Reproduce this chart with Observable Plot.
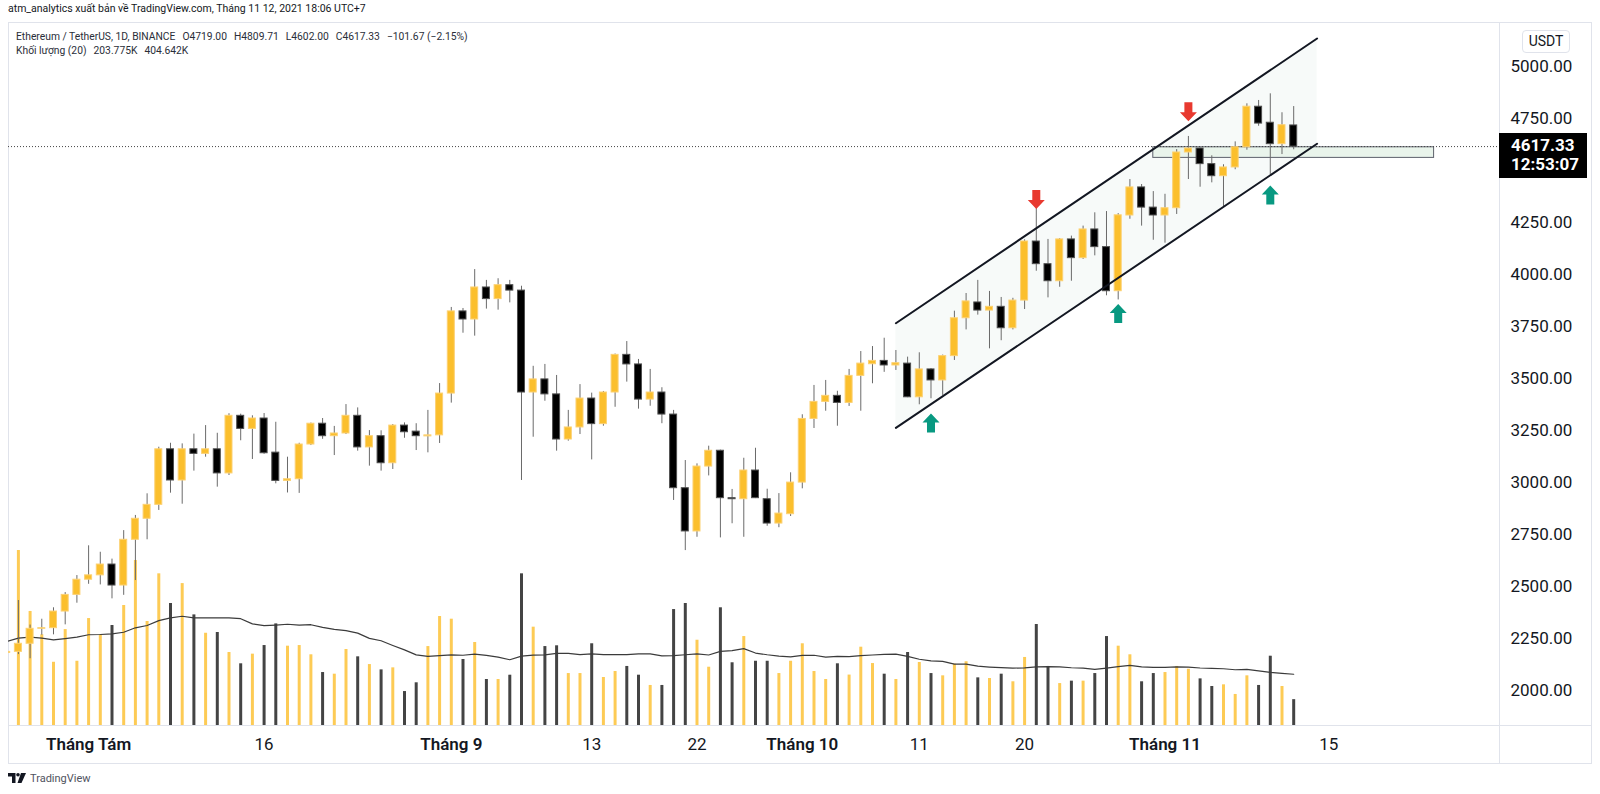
<!DOCTYPE html>
<html><head><meta charset="utf-8">
<script src="https://cdn.jsdelivr.net/npm/d3@7"></script>
<script src="https://cdn.jsdelivr.net/npm/@observablehq/plot@0.6"></script>
<style>
body{margin:0;background:#fff;}
#wrap{position:relative;width:1600px;height:794px;overflow:hidden;font-family:Roboto,sans-serif;color:#131722;background:#fff;}
#wrap svg{position:absolute;left:0;top:0;}
.abs{position:absolute;white-space:nowrap;}
.hline{position:absolute;height:1px;background:#e0e3eb;}
.vline{position:absolute;width:1px;background:#e0e3eb;}
</style></head><body><div id="wrap"></div>
<script>
// ---------- data ----------
const firstDay = "2021-07-25", lastDay = "2021-11-12";
const opens = [2183,2188,2227,2299,2302,2382,2462,
 2535,2556,2608,2507,2727,2828,2895,3162,3012,3162,3140,3162,3046,3323,3260,3310,3146,3010,3018,3185,3285,3225,3238,3323,3171,3225,3095,3276,3247,3224,3229,
 3430,3825,3786,3940,3884,3951,3925,3435,3498,3426,3209,3267,3406,3283,3435,3616,3570,3401,3435,3329,2975,2767,3079,3155,2927,2922,3060,2922,2805,2850,
 3002,3308,3390,3419,3385,3515,3571,3587,3565,3574,3412,3546,3493,3610,3792,3868,3829,3847,3744,3877,4161,4052,3970,4171,4081,4219,4134,3922,4286,4421,4324,
 4286,4321,4589,4608,4533,4475,4517,4614,4809,4732,4629,4719];
const highs = [2200,2435,2317,2345,2400,2473,2555,
 2698,2667,2634,2771,2844,2948,3172,3191,3188,3235,3276,3239,3333,3331,3323,3334,3292,3124,3191,3288,3310,3272,3377,3361,3252,3251,3281,3289,3285,3349,3478,
 3844,3839,4026,3974,3982,3974,3946,3561,3570,3517,3349,3473,3432,3440,3620,3680,3594,3546,3458,3349,3108,3092,3177,3158,2969,3119,3167,2970,2949,3049,
 3328,3469,3493,3441,3546,3632,3656,3696,3637,3605,3626,3550,3615,3826,3911,3974,3921,3892,3888,4169,4370,4171,4175,4187,4235,4299,4305,4295,4459,4435,4401,
 4388,4603,4666,4610,4573,4530,4640,4823,4839,4871,4780,4809.71];
const lows = [2150,2175,2155,2268,2270,2318,2422,
 2513,2510,2443,2460,2531,2727,2868,2951,2898,3057,3124,2980,3036,3203,3113,3138,2996,2952,2950,3180,3210,3132,3233,3153,3081,3057,3065,3215,3156,3145,3190,
 3384,3720,3706,3836,3831,3866,3012,3220,3393,3153,3201,3233,3111,3273,3364,3485,3355,3369,3285,2916,2675,2739,3034,2736,2804,2739,2925,2792,2785,2839,
 2972,3262,3345,3273,3368,3345,3477,3532,3541,3410,3376,3405,3421,3589,3736,3807,3645,3684,3736,3834,4018,3890,3941,3970,4075,4092,3900,3880,4268,4235,4167,
 4153,4291,4459,4422,4443,4329,4506,4600,4715,4477,4579,4602];
const closes = [2188,2227,2299,2302,2382,2462,2535,
 2556,2608,2507,2727,2828,2895,3162,3012,3162,3140,3162,3046,3323,3260,3310,3143,3010,3018,3185,3285,3225,3238,3323,3171,3225,3095,3276,3244,3225,3229,3430,
 3825,3786,3940,3884,3951,3925,3435,3498,3426,3209,3267,3406,3283,3435,3616,3570,3401,3435,3329,2975,2767,3079,3155,2927,2922,3060,2927,2805,2853,3002,
 3308,3390,3419,3385,3515,3574,3587,3565,3576,3412,3546,3493,3610,3792,3873,3829,3847,3744,3877,4161,4052,3970,4171,4081,4219,4134,3922,4287,4421,4324,4286,
 4321,4589,4608,4533,4475,4517,4614,4809,4728,4629,4720,4617.33];
// volume in thousands (K)
const volumes = [null,1381,900,716,499,757,507,
 844,716,789,947,1302,821,1197,963,1120,873,728,734,576,487,563,631,802,626,631,558,418,405,600,542,481,439,455,268,337,623,860,
 839,521,655,363,363,397,1197,776,623,629,410,410,645,379,426,466,397,316,316,915,963,673,460,929,495,702,507,507,410,507,
 645,426,363,487,398,618,489,405,363,576,497,410,392,484,503,376,371,405,345,537,797,466,331,350,350,410,702,626,558,345,410,
 418,466,444,368,308,321,245,392,316,547,308,204];
const maEarly = [663,689,697,690,676,686,697,716,718,723,736,771,789,828,850,862,850,850,850,850];
const maWindow = 20;

const monthTickDates = ["2021-08-01","2021-09-01","2021-10-01","2021-11-01"];
const monthTickLabels = ["Tháng Tám","Tháng 9","Tháng 10","Tháng 11"];
const dayTickDates = ["2021-08-16","2021-09-13","2021-09-22","2021-10-11","2021-10-20","2021-11-15"];
const dayTickLabels = ["16","13","22","11","20","15"];
const priceTicks = [2000,2250,2500,2750,3000,3250,3500,3750,4000,4250,4750,5000];

const channelDates = ["2021-10-09","2021-11-14"];
const channelLower = [3265,4631];
const channelUpper = [3768,5137];
const zoneDates = ["2021-10-31","2021-11-24"];
const zonePrices = [4563,4614];
const sellArrowDates = ["2021-10-21","2021-11-03"];
const sellArrowPrices = [4363,4785];
const buyArrowDates = ["2021-10-12","2021-10-28","2021-11-10"];
const buyArrowPrices = [3288,3815,4384];

const lastPrice = 4617.33;
const countdown = "12:53:07";
const titleText = "atm_analytics xuất bản về TradingView.com, Tháng 11 12, 2021 18:06 UTC+7";
const symbolText = "Ethereum / TetherUS, 1D, BINANCE";
const ohlcText = ["O4719.00","H4809.71","L4602.00","C4617.33","−101.67 (−2.15%)"];
const volText = ["Khối lượng (20)","203.775K","404.642K"];

// ---------- build ----------
const DAY = 864e5;
const P = s => new Date(s + "T00:00:00Z");
const dates = d3.utcDay.range(P(firstDay), d3.utcDay.offset(P(lastDay), 1));
const rows = dates.map((date, i) => ({
  date, open: opens[i], high: highs[i], low: lows[i], close: closes[i],
  volume: volumes[i], up: closes[i] >= opens[i],
  ma: i < maEarly.length ? maEarly[i] : d3.mean(volumes.slice(i - maWindow + 1, i + 1))
}));
const channel = channelDates.map((d, i) => ({date: P(d), lo: channelLower[i], hi: channelUpper[i]}));
const zone = [{x1: P(zoneDates[0]), x2: P(zoneDates[1]), y1: zonePrices[0], y2: zonePrices[1]}];
const sells = sellArrowDates.map((d, i) => ({date: P(d), p: sellArrowPrices[i]}));
const buys = buyArrowDates.map((d, i) => ({date: P(d), p: buyArrowPrices[i]}));

const arrowDown = {draw(c) { c.moveTo(-4,-9.5); c.lineTo(4,-9.5); c.lineTo(4,0.5); c.lineTo(8.5,0.5); c.lineTo(0,9.5); c.lineTo(-8.5,0.5); c.lineTo(-4,0.5); c.closePath(); }};
const arrowUp = {draw(c) { c.moveTo(-4,9.5); c.lineTo(4,9.5); c.lineTo(4,-0.5); c.lineTo(8.5,-0.5); c.lineTo(0,-9.5); c.lineTo(-8.5,-0.5); c.lineTo(-4,-0.5); c.closePath(); }};

const xDomain = [new Date(Date.UTC(2021,6,25,3,42)), new Date(Date.UTC(2021,10,29,14,10))];
const common = {
  width: 1600, height: 794, marginLeft: 8, marginRight: 101, marginTop: 22, marginBottom: 69,
  x: {type: "utc", domain: xDomain},
  color: {type: "identity"},
  style: {background: "transparent", fontFamily: "Roboto, sans-serif", fontSize: "17px", color: "#131722", overflow: "visible"}
};

const UP = "#fbbf2d", DOWN = "#000000";
const volPlot = Plot.plot({
  ...common,
  x: {...common.x, axis: null},
  y: {domain: [0, 5548], axis: null},
  marks: [
    Plot.ruleX(rows.filter(r => r.volume != null), {x: "date", y1: 0, y2: "volume", stroke: r => r.up ? "#fdcb55" : "#444444", strokeWidth: 3, clip: true}),
    Plot.line(rows, {x: "date", y: "ma", stroke: "#3b3b3b", strokeWidth: 1.2, clip: true})
  ]
});

const monthMap = new Map(monthTickDates.map((d, i) => [+P(d), monthTickLabels[i]]));
const dayMap = new Map(dayTickDates.map((d, i) => [+P(d), dayTickLabels[i]]));

const pricePlot = Plot.plot({
  ...common,
  y: {domain: [1834.1, 5213.9]},
  marks: [
    Plot.areaY(channel, {x: "date", y1: "lo", y2: "hi", fill: "#f7faf9"}),
    Plot.rect(zone, {x1: "x1", x2: "x2", y1: "y1", y2: "y2", fill: "#e9f4eb", stroke: "#5d606b", strokeWidth: 1}),
    Plot.ruleY([lastPrice], {stroke: "#444", strokeDasharray: "1,2", strokeWidth: 1}),
    Plot.ruleX(rows, {x: "date", y1: "low", y2: "high", stroke: "#6a6a6a", strokeWidth: 1, clip: true}),
    Plot.rect(rows, {x1: d => new Date(+d.date - 0.3 * DAY), x2: d => new Date(+d.date + 0.3 * DAY), y1: "open", y2: "close",
      fill: d => d.up ? UP : DOWN, stroke: d => d.up ? "#fcd173" : "#505050", strokeWidth: 1, clip: true}),
    Plot.line(channel, {x: "date", y: "hi", stroke: "#131722", strokeWidth: 2}),
    Plot.line(channel, {x: "date", y: "lo", stroke: "#131722", strokeWidth: 2}),
    Plot.dot(sells, {x: "date", y: "p", symbol: arrowDown, r: 8, fill: "#e8392f", stroke: null}),
    Plot.dot(buys, {x: "date", y: "p", symbol: arrowUp, r: 8, fill: "#089981", stroke: null}),
    Plot.axisY({anchor: "right", ticks: priceTicks, tickFormat: d => d.toFixed(2), tickSize: 0, tickPadding: 11, textAnchor: "start", label: null, fontSize: 17}),
    Plot.axisX({ticks: monthTickDates.map(P), tickFormat: d => monthMap.get(+d), tickSize: 0, tickPadding: 12, label: null, fontSize: 17, fontWeight: 600}),
    Plot.axisX({ticks: dayTickDates.map(P), tickFormat: d => dayMap.get(+d), tickSize: 0, tickPadding: 12, label: null, fontSize: 17})
  ]
});

const wrap = document.getElementById("wrap");
// frame lines
const add = (html) => { const t = document.createElement("div"); t.innerHTML = html; const el = t.firstElementChild; wrap.appendChild(el); return el; };
add('<div class="hline" style="left:8px;top:22px;width:1584px"></div>');
add('<div class="hline" style="left:8px;top:725px;width:1584px"></div>');
add('<div class="hline" style="left:8px;top:763px;width:1584px"></div>');
add('<div class="vline" style="left:8px;top:22px;height:742px"></div>');
add('<div class="vline" style="left:1499px;top:22px;height:742px"></div>');
add('<div class="vline" style="left:1591px;top:22px;height:742px"></div>');
wrap.appendChild(volPlot);
wrap.appendChild(pricePlot);

// texts
add(`<div class="abs" style="left:8px;top:2px;font-size:10.5px;line-height:14px;color:#131722">${titleText}</div>`);
add(`<div class="abs" style="left:16px;top:30px;font-size:10.3px;line-height:14px;color:#2a2e39">${symbolText}${ohlcText.map(t => `<span style="margin-left:7px">${t}</span>`).join("")}</div>`);
add(`<div class="abs" style="left:16px;top:44px;font-size:10.3px;line-height:14px;color:#2a2e39">${volText[0]}${volText.slice(1).map(t => `<span style="margin-left:7px">${t}</span>`).join("")}</div>`);
add(`<div class="abs" style="left:1522px;top:30px;width:46px;height:21px;border:1px solid #e0e3eb;border-radius:4px;font-size:14px;line-height:21px;text-align:center;color:#131722">USDT</div>`);

const yy = pricePlot.scale("y").apply(lastPrice);
add(`<div class="abs" style="left:1499px;top:${yy - 13}px;width:88px;height:45px;background:#000;color:#fff;font-size:17px;font-weight:bold;line-height:19px;padding-left:12px;box-sizing:border-box;padding-top:3px">${lastPrice.toFixed(2)}<br>${countdown}</div>`);

// TradingView footer
add(`<div class="abs" style="left:8px;top:771px;height:14px;display:flex;align-items:center;gap:4px;font-size:11px;color:#50535e"><svg width="18" height="10" viewBox="0 0 18 10" style="position:static"><path d="M0 0H7.5V10H4V3.5H0Z" fill="#131722"/><circle cx="10" cy="1.8" r="1.8" fill="#131722"/><path d="M13 0H18L13.5 10H9.5Z" fill="#131722"/></svg><span>TradingView</span></div>`);
</script></body></html>
